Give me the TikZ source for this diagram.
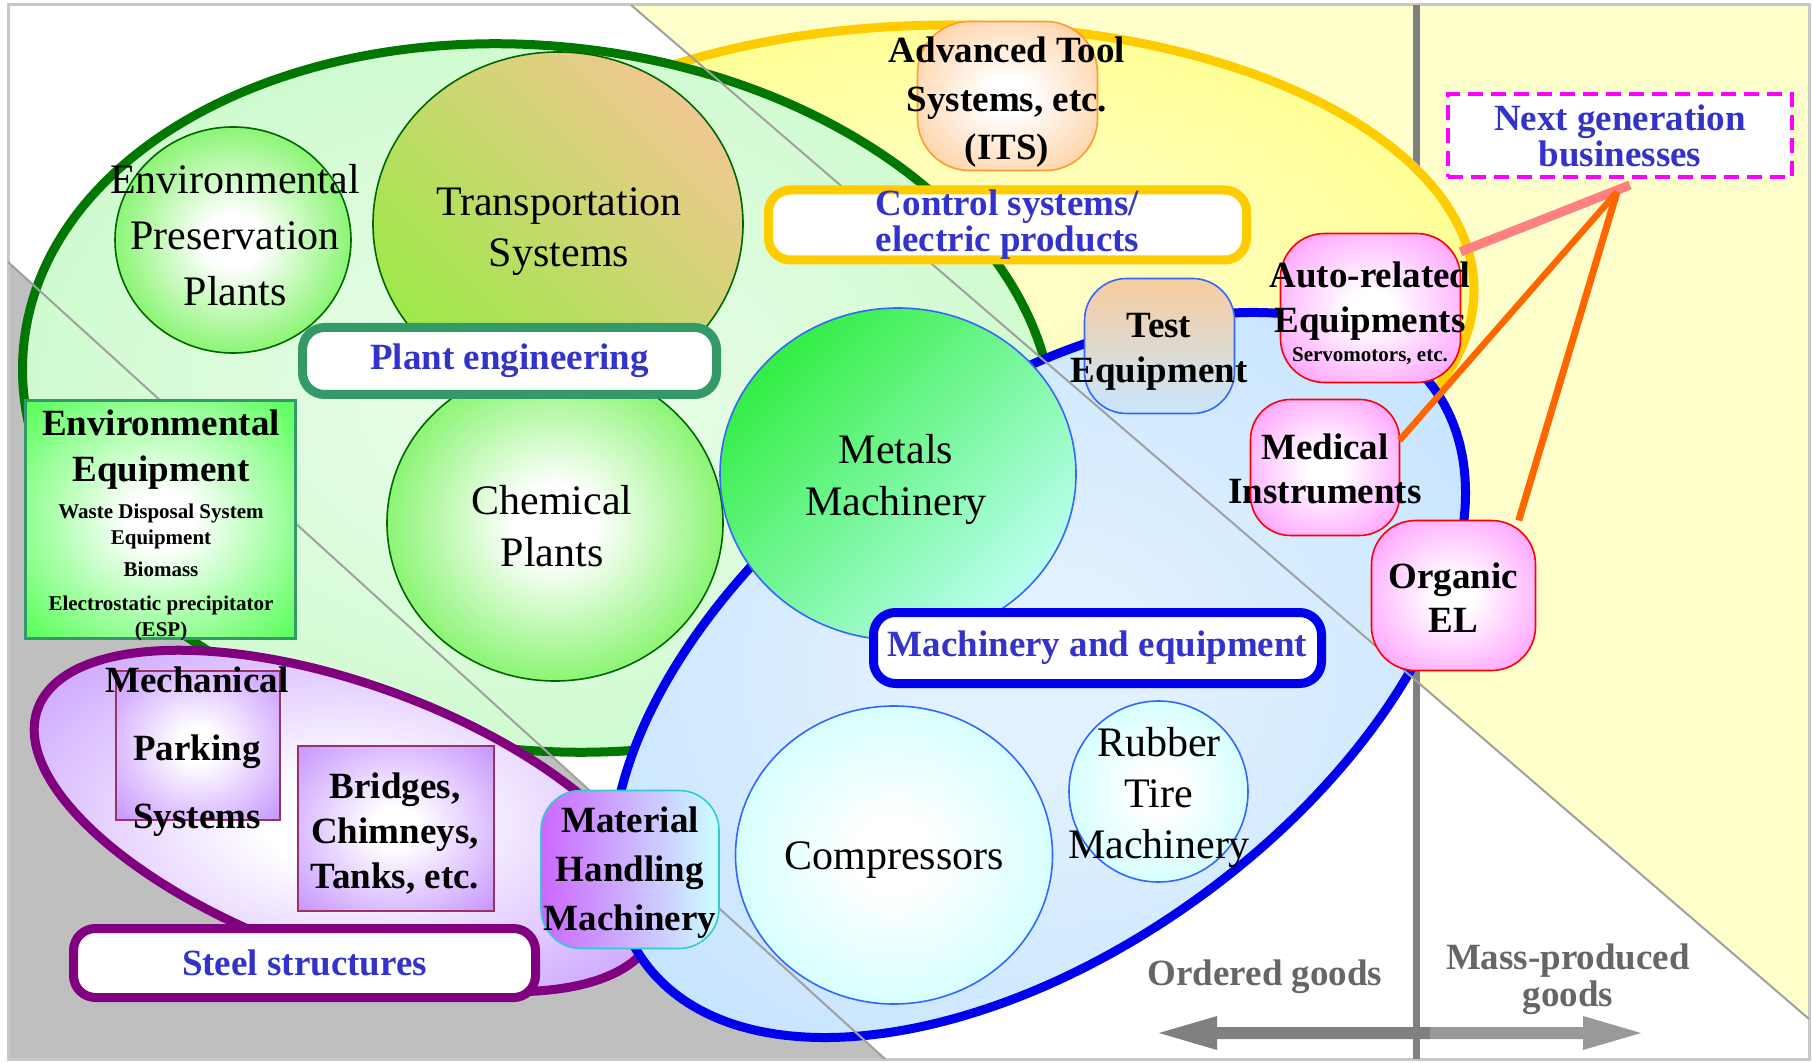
\documentclass[tikz,border=0pt]{standalone}
\usepackage{fontspec}
\setmainfont{Liberation Serif}
\usetikzlibrary{shapes.geometric}

\definecolor{bgyellow}{HTML}{FFFFCC}
\definecolor{bggray}{HTML}{BFBFBF}
\definecolor{framegray}{HTML}{C8C8C8}
\definecolor{divgray}{HTML}{A0A0A0}
\definecolor{axisgray}{HTML}{808080}
\definecolor{axislight}{HTML}{999999}
\definecolor{goodsgray}{HTML}{666666}
\definecolor{lblue}{HTML}{3333CC}
\definecolor{plantgreen}{HTML}{007700}
\definecolor{plantfill}{HTML}{C4FAC4}
\definecolor{ctrlyellow}{HTML}{FFCC00}
\definecolor{ctrlfill}{HTML}{FFFF80}
\definecolor{machblue}{HTML}{0000EE}
\definecolor{machfill}{HTML}{BEE0FF}
\definecolor{steelpurple}{HTML}{800080}
\definecolor{steelfill}{HTML}{C496FF}
\definecolor{tealgreen}{HTML}{339966}
\definecolor{leafgreen}{HTML}{55F033}
\definecolor{darkleaf}{HTML}{006600}
\definecolor{transtan}{HTML}{F0C890}
\definecolor{transgreen}{HTML}{9CEA48}
\definecolor{metalgreen}{HTML}{33EE44}
\definecolor{metalpale}{HTML}{BBFFF0}
\definecolor{linkblue}{HTML}{3366FF}
\definecolor{paleaqua}{HTML}{C4FFFF}
\definecolor{envfill}{HTML}{5CFF5C}
\definecolor{boxrose}{HTML}{993366}
\definecolor{lilac}{HTML}{C999FF}
\definecolor{mhmpurple}{HTML}{CC66FF}
\definecolor{mhmaqua}{HTML}{CCFFFF}
\definecolor{mhmedge}{HTML}{33CCCC}
\definecolor{peach}{HTML}{FFCC99}
\definecolor{peachedge}{HTML}{FF9933}
\definecolor{testtop}{HTML}{F8CC9C}
\definecolor{testbottom}{HTML}{C8E6FF}
\definecolor{pinkfill}{HTML}{FF99FF}
\definecolor{pinkedge}{HTML}{FF0000}
\definecolor{nextmagenta}{HTML}{FF00FF}
\definecolor{linkpink}{HTML}{FF8080}
\definecolor{linkorange}{HTML}{FF6600}

% white core fading to a chosen rim colour
\colorlet{glowout}{white}
\colorlet{glowin}{white}
\pgfdeclareradialshading[glowout]{glow}{\pgfpoint{0bp}{0bp}}{color(0bp)=(white); color(6bp)=(white); color(34bp)=(glowout); color(50bp)=(glowout)}
% softer version for the large regions
\pgfdeclareradialshading[glowin,glowout]{haze}{\pgfpoint{0bp}{0bp}}{color(0bp)=(glowin); color(6bp)=(glowin); color(34bp)=(glowout); color(50bp)=(glowout)}

\tikzset{
  glow/.code={\colorlet{glowout}{#1}\tikzset{shade,shading=glow}},
  haze/.code={\colorlet{glowout}{#1}\colorlet{glowin}{#1!45!white}\tikzset{shade,shading=haze}},
  every node/.style={inner sep=0pt, outer sep=0pt},
  rtxt/.style={align=center, font=\fontsize{21}{#1}\selectfont},
  rtxt/.default=26pt,
  btxt/.style={align=center, font=\fontsize{18.5}{#1}\selectfont\bfseries},
  btxt/.default=22.5pt,
  stxt/.style={align=center, font=\fontsize{10.5}{13pt}\selectfont\bfseries},
  grp/.style={rectangle, draw=#1, line width=4.5pt, rounded corners=11pt, fill=white,
    align=center, text=lblue, font=\fontsize{18.5}{18pt}\selectfont\bfseries},
  blob/.style={ellipse, draw=#1, line width=0.8pt},
  pill/.style={rectangle, rounded corners=#1, line width=0.8pt},
  boxr/.style={rectangle, draw=boxrose, line width=1pt, glow=lilac},
  pinkpill/.style={pill=#1, draw=pinkedge, glow=pinkfill},
  region/.style={line width=4.5pt},
  divider/.style={divgray, line width=1pt},
  link/.style={line width=#1},
}

\begin{document}
\begin{tikzpicture}[x=0.5pt,y=-0.5pt]
\useasboundingbox (0,0) rectangle (1814,1063);

% backdrop: white field, yellow and grey wedges, frame
\fill[white] (0,0) rectangle (1814,1063);
\fill[bgyellow] (631,5) -- (1809,5) -- (1809,1019) -- cycle;
\fill[bggray] (8,262) -- (885,1059) -- (8,1059) -- cycle;
\draw[framegray, line width=1.5pt] (8,5) rectangle (1809,1059);

% ordered / mass-produced axis
\fill[axisgray] (1159,1033) -- (1217,1016) -- (1217,1027) -- (1430,1027)
  -- (1430,1039) -- (1217,1039) -- (1217,1050) -- cycle;
\fill[axislight] (1430,1027) -- (1583,1027) -- (1583,1016) -- (1641,1033)
  -- (1583,1050) -- (1583,1039) -- (1430,1039) -- cycle;
\draw[axisgray, line width=3.5pt] (1416,5) -- (1416,1059);

% business regions
\draw[region, draw=ctrlyellow, haze=ctrlfill] (950,290) ellipse [x radius=524, y radius=265];
\draw[region, draw=plantgreen, haze=plantfill, rotate around={-6:(538,398)}]
  (538,398) ellipse [x radius=517, y radius=352];
\draw[region, draw=steelpurple, glow=steelfill, rotate around={-20:(346,821)}]
  (346,821) ellipse [x radius=328, y radius=137];
\draw[region, draw=machblue, haze=machfill, rotate around={36:(1039,675)}]
  (1039,675) ellipse [x radius=488, y radius=274];

% diagonal dividers
\draw[divider] (631,5) -- (1809,1019);
\draw[divider] (8,262) -- (885,1059);

% plant engineering products
\node[blob=darkleaf, glow=leafgreen, minimum width=118pt, minimum height=113pt] (epp) at (233,240) {};
\node[blob=darkleaf, top color=transtan, bottom color=transgreen, shading angle=-45,
  minimum width=185pt, minimum height=172pt] (trans) at (558,224) {};
\node[blob=darkleaf, glow=leafgreen, minimum width=168pt, minimum height=158pt] (chem) at (555,523) {};

% machinery products
\node[blob=linkblue, top color=metalgreen, bottom color=metalpale, shading angle=45,
  minimum width=178pt, minimum height=166pt] (metal) at (898,474) {};
\node[blob=linkblue, glow=paleaqua, minimum width=158.5pt, minimum height=149pt] (comp) at (894,855) {};
\node[blob=linkblue, glow=paleaqua, minimum width=89.5pt, minimum height=90.5pt] (rubber) at (1158.5,791.5) {};

% boxes
\node[rectangle, draw=tealgreen, line width=1.4pt, glow=envfill,
  minimum width=135pt, minimum height=119pt] (envbox) at (160.5,519.5) {};
\node[boxr, minimum width=82pt, minimum height=74.5pt] (park) at (198,745.5) {};
\node[boxr, minimum width=98pt, minimum height=82.5pt] (bridge) at (395.5,828) {};
\node[pill=20pt, draw=mhmedge, left color=mhmpurple, right color=mhmaqua,
  minimum width=89pt, minimum height=79pt] (mhm) at (630,869.5) {};
\node[pill=26pt, draw=peachedge, glow=peach, minimum width=90pt, minimum height=74.5pt] (atool) at (1007.5,96) {};
\node[pill=21pt, draw=linkblue, top color=testtop, bottom color=testbottom,
  minimum width=75pt, minimum height=67.5pt] (test) at (1159.5,346) {};
\node[pinkpill=22pt, minimum width=90pt, minimum height=74.5pt] (auto) at (1370.5,308) {};
\node[pinkpill=20pt, minimum width=74.5pt, minimum height=68pt] (med) at (1325,467.5) {};
\node[pinkpill=22pt, minimum width=82pt, minimum height=75pt] (org) at (1453.5,595.5) {};

% group labels
\node[grp=tealgreen, minimum width=207pt, minimum height=33.5pt] (plantlbl) at (509.5,361) {Plant engineering};
\node[grp=ctrlyellow, minimum width=239pt, minimum height=35pt] (ctrllbl) at (1007.5,225) {Control systems/\\electric products};
\node[grp=machblue, minimum width=224pt, minimum height=35.5pt] (machlbl) at (1097.5,648) {Machinery and equipment};
\node[grp=steelpurple, minimum width=231pt, minimum height=34.5pt] (steellbl) at (304.5,963) {Steel structures};
\node[rectangle, draw=nextmagenta, line width=2pt, dash pattern=on 7.5pt off 4pt, fill=white,
  align=center, text=lblue, font=\fontsize{18.5}{18pt}\selectfont\bfseries,
  minimum width=172pt, minimum height=41.5pt] (nextlbl) at (1620,135.5) {Next generation\\businesses};

% texts
\node[rtxt=28pt] (eppT) at (235,235) {Environmental\\Preservation\\Plants};
\node[rtxt=25.5pt] (transT) at (559,231.5) {Transportation\\Systems};
\node[rtxt=26pt] (chemT) at (552,526) {Chemical\\Plants};
\node[rtxt=26pt] (metalT) at (896,479) {Metals\\Machinery};
\node[rtxt] (compT) at (894,860.5) {Compressors};
\node[rtxt=25.5pt] (rubberT) at (1159,797.5) {Rubber\\Tire\\Machinery};

\node[btxt=23pt] (envT) at (161,449.5) {Environmental\\Equipment};
\node[stxt] (envS) at (161,572) {Waste Disposal System\\Equipment\\[3pt]Biomass\\[4pt]Electrostatic precipitator\\(ESP)};
\node[btxt=34pt] (parkT) at (197,752) {Mechanical\\Parking\\Systems};
\node[btxt=22.5pt] (bridgeT) at (395,834) {Bridges,\\Chimneys,\\Tanks, etc.};
\node[btxt=24.5pt] (mhmT) at (630,872.5) {Material\\Handling\\Machinery};
\node[btxt=24.3pt] (atoolT) at (1007,102.5) {Advanced Tool\\Systems, etc.\\(ITS)};
\node[btxt=22.5pt] (testT) at (1159,352) {Test\\Equipment};
\node[btxt=22.4pt] (autoT) at (1370,301) {Auto-related\\Equipments};
\node[stxt] (servoT) at (1370,356) {Servomotors, etc.};
\node[btxt=22.2pt] (medT) at (1325,469) {Medical\\Instruments};
\node[btxt=22pt] (orgT) at (1453.5,598) {Organic\\EL};

\node[btxt, text=goodsgray] (orderT) at (1265,976.5) {Ordered goods};
\node[btxt=18.5pt, text=goodsgray] (massT) at (1568,979.5) {Mass-produced\\goods};

% links to next generation businesses
\coordinate (hubP) at (1630,185);
\coordinate (hubO) at (1617,192);
\draw[link=4.6pt, linkpink] (hubP) -- (auto.32);
\draw[link=3.2pt, linkorange] (hubO) -- (med.20);
\draw[link=3.5pt, linkorange] (hubO) -- (org.49);
\end{tikzpicture}
\end{document}
